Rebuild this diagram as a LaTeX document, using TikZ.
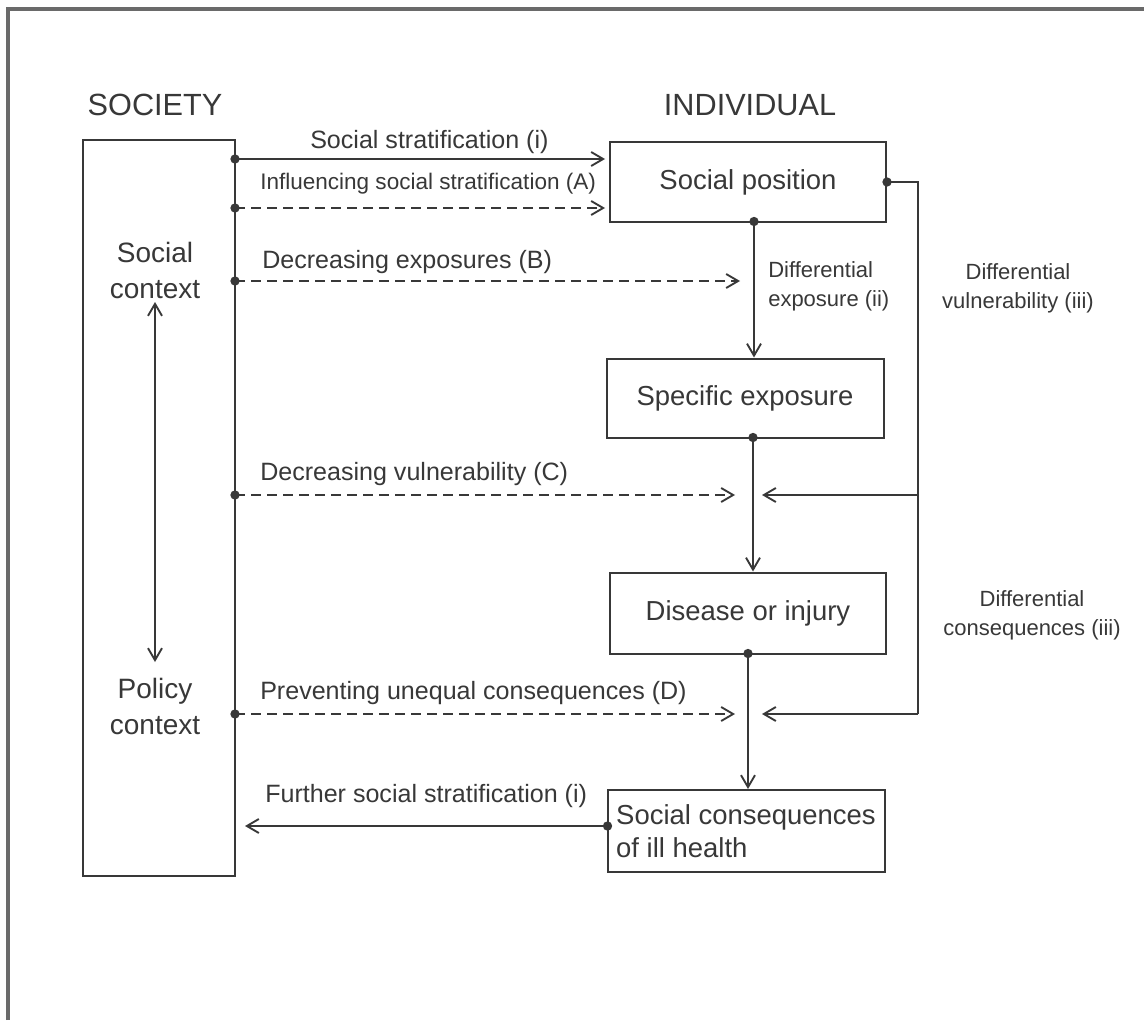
\documentclass[tikz,border=0pt]{standalone}
\usepackage{fontspec}
\setmainfont{Liberation Sans}
\usetikzlibrary{arrows.meta,calc}
\definecolor{ink}{HTML}{383838}
\definecolor{framegrey}{HTML}{6A6A6A}

\begin{document}
\begin{tikzpicture}[x=0.75pt,y=-0.75pt,
  every node/.style={text=ink, inner sep=0pt},
  head/.style={font=\fontsize{23}{27}\selectfont},
  boxtext/.style={font=\fontsize{20.6}{25}\selectfont},
  ctx/.style={font=\fontsize{21}{27}\selectfont, align=center},
  lab/.style={font=\fontsize{18.8}{22}\selectfont, anchor=west},
  small/.style={font=\fontsize{16.5}{22}\selectfont},
  box/.style={draw=ink, line width=1.5pt, rectangle, boxtext},
  link/.style={draw=ink, line width=1.5pt},
  arr/.style={link, -{Straight Barb[length=9pt,width=10.5pt,line width=1.4pt]}},
  dasharr/.style={arr, dash pattern=on 7.5pt off 4.5pt},
  dot/.style={circle, fill=ink, minimum size=7pt}
]
% page and frame
\useasboundingbox (0,0) rectangle (1144,1020);
\fill[white] (0,0) rectangle (1144,1020);
\draw[framegrey, line width=2.4pt] (8,1020) -- (8,9) -- (1144,9);

% column headings
\node[head] (hsoc) at (155,105) {SOCIETY};
\node[head] (hind) at (750,105) {INDIVIDUAL};

% society column
\node[draw=ink, line width=1.5pt, minimum width=152*0.75pt, minimum height=736*0.75pt] (soc) at (159,508) {};
\node[ctx] (scx) at (155,270) {Social\\context};
\node[ctx] (pcx) at (155,706) {Policy\\context};
\coordinate (dtop) at (155,302);
\coordinate (dbot) at (155,662);
\draw[link, {Straight Barb[length=9pt,width=10.5pt,line width=1.4pt]}-{Straight Barb[length=9pt,width=10.5pt,line width=1.4pt]}] (dtop) -- (dbot);

% individual column
\node[box, minimum width=276*0.75pt, minimum height=79*0.75pt] (sp) at (748,182) {Social position};
\node[box, minimum width=277*0.75pt, minimum height=79*0.75pt] (se) at (745,398) {Specific exposure};
\node[box, minimum width=276*0.75pt, minimum height=81*0.75pt] (di) at (748,613) {Disease or injury};
\node[box, minimum width=277*0.75pt, minimum height=82*0.75pt, align=left] (sc) at (746,831) {Social consequences\\of ill health};

% anchor points on the society box edge
\coordinate (s1) at (235,159);
\coordinate (s2) at (235,208);
\coordinate (s3) at (235,281);
\coordinate (s4) at (235,495);
\coordinate (s5) at (235,714);
\coordinate (s6) at (245,826);

% targets
\coordinate (t1) at (605,159);
\coordinate (t2) at (605,208);
\coordinate (t3) at (740,281);
\coordinate (t4) at (735,495);
\coordinate (t5) at (735,714);

% society to individual arrows
\draw[arr] (s1) -- (t1);
\draw[dasharr] (s2) -- (t2);
\draw[dasharr] (s3) -- (t3);
\draw[dasharr] (s4) -- (t4);
\draw[dasharr] (s5) -- (t5);
\foreach \p in {s1,s2,s3,s4,s5} \node[dot] at (\p) {};

\node[lab] (l1) at (310,142) {Social stratification (i)};
\node[font=\fontsize{16.9}{20}\selectfont, anchor=west] (l2) at (260,184) {Influencing social stratification (A)};
\node[lab] (l3) at (262,262) {Decreasing exposures (B)};
\node[lab] (l4) at (260,474) {Decreasing vulnerability (C)};
\node[lab] (l5) at (260,693) {Preventing unequal consequences (D)};

% main causal chain
\coordinate (a1) at (754,221.5);
\coordinate (a2) at (753,437.5);
\coordinate (a3) at (748,653.5);
\draw[arr] (a1) -- (a1 |- se.north);
\draw[arr] (a2) -- (a2 |- di.north);
\draw[arr] (a3) -- (a3 |- sc.north);
\foreach \p in {a1,a2,a3} \node[dot] at (\p) {};

\node[small, align=left, anchor=west] (dex) at (768,286) {Differential\\exposure (ii)};

% differential vulnerability / consequences route
\coordinate (r0) at (sp.east);
\coordinate (r1) at (918,182);
\coordinate (r2) at (918,495);
\coordinate (r3) at (918,714);
\draw[link] (r0) -- (r1) -- (r3);
\draw[arr] (r2) -- (762,495);
\draw[arr] (r3) -- (762,714);
\node[dot] at (r0) {};

\node[small, align=center] (dvu) at (1018,288) {Differential\\vulnerability (iii)};
\node[small, align=center] (dco) at (1032,615) {Differential\\consequences (iii)};

% feedback to society
\coordinate (f0) at (607.5,826);
\draw[arr] (f0) -- (s6);
\node[dot] at (f0) {};
\node[lab] (l6) at (265,796) {Further social stratification (i)};
\end{tikzpicture}
\end{document}
